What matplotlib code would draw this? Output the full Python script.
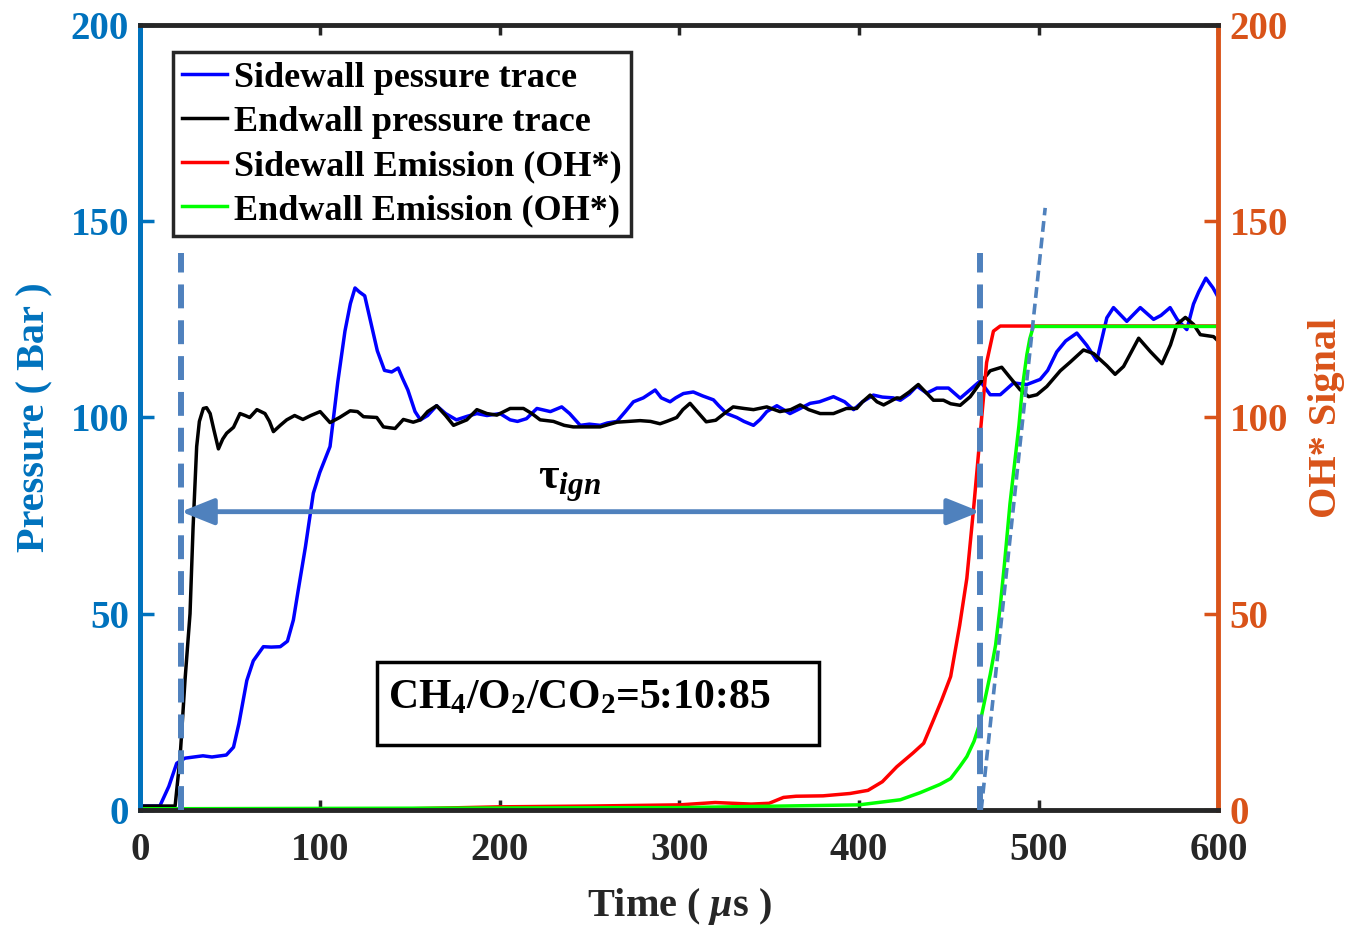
import matplotlib
matplotlib.use("Agg")
import matplotlib.pyplot as plt
from matplotlib.patches import Rectangle

plt.rcParams['font.family'] = ['Liberation Serif', 'DejaVu Serif']
plt.rcParams['font.weight'] = 'bold'
plt.rcParams['axes.labelweight'] = 'bold'
plt.rcParams['mathtext.fontset'] = 'custom'
plt.rcParams['mathtext.rm'] = 'Liberation Serif:bold'
plt.rcParams['mathtext.bf'] = 'Liberation Serif:bold'
plt.rcParams['mathtext.it'] = 'Liberation Serif:italic:bold'

# --- data (time in us) ---
side_t = [0, 11, 16, 20.4, 25, 30, 35, 40, 48, 52, 55, 59.4, 63, 68.6, 73, 78, 82, 85.3, 88, 92,
          96.4, 100, 105.7, 110, 114, 117, 119.6, 122, 125, 128, 132, 136, 140, 143.6, 146, 149,
          153, 156, 160, 165, 170, 176, 182, 187.4, 193, 200.3, 205.9, 210, 215, 220.8, 228.3,
          234.6, 239, 244.9, 250, 256, 260, 265.3, 270, 274.5, 280, 286.6, 290, 294.9, 298,
          302.3, 307.8, 313, 319, 322, 326.4, 332, 336, 341.3, 345, 348.7, 354.3, 358, 361.6,
          366, 372.8, 378, 385.8, 392, 397, 402, 408, 413, 419, 423, 428, 432.2, 437.7, 443.3,
          449.8, 456.3, 461.9, 467.4, 473, 478.6, 486, 493.4, 500.8, 505, 510, 515, 521.2, 526.7,
          532.3, 537.9, 541.6, 549, 556.5, 563.9, 568, 573.1, 577, 582.4, 586.1, 589, 593, 597, 600]
side_p = [1.0, 1.0, 6, 11.9, 13.2, 13.5, 13.8, 13.5, 14, 16, 22, 33, 38, 41.6, 41.5, 41.6, 43,
          48.4, 56, 67, 80.7, 86, 92.6, 109, 122, 129, 133, 132, 131, 125, 117, 112, 111.6,
          112.6, 110, 107, 101.5, 99.4, 100.5, 103, 101, 99.4, 100.3, 101, 100.5, 101, 99.4, 99,
          99.7, 102.3, 101.5, 102.7, 101, 98, 98.3, 98, 98.6, 99, 101.5, 104, 105, 107, 105, 104,
          105, 106.1, 106.5, 105.5, 104.5, 103, 101, 100, 99, 98, 99.5, 101.5, 103, 102, 101, 102,
          103.6, 104, 105.3, 104, 102, 104, 105.7, 105.2, 105, 104.4, 106, 108, 106.2, 107.5,
          107.5, 104.9, 107.1, 109.3, 105.8, 105.8, 108.8, 108.4, 109.7, 112, 116.7, 119.5, 121.5,
          118.4, 114.5, 125.4, 128, 124.5, 128, 125, 126, 128, 125, 122.4, 128.9, 132, 135.5, 133,
          130.5]

end_t = [0, 19.5, 22.3, 25, 27.8, 29.5, 31.5, 33, 35.2, 37, 39, 41, 43.6, 46, 48.2, 52, 55.6,
         58.5, 61, 65, 69.5, 72, 74.2, 78, 81.6, 86, 90.6, 95, 100.2, 105.7, 111, 116.9, 121,
         124.3, 131.7, 135.4, 141.9, 146.5, 152, 156, 160, 165, 170, 174.4, 181.8, 187.4, 193,
         198.5, 205.9, 213.3, 218, 222.6, 230, 236, 241, 256, 265.3, 278.2, 284, 289.3, 293,
         298.6, 302, 306, 310, 315, 320.3, 325, 330, 336, 341.3, 348.7, 356, 362, 367.3, 372,
         378.4, 385.8, 393, 398.7, 402, 406.2, 410, 413.7, 417, 421, 423, 428, 433, 437, 441.4,
         447, 451, 456.3, 461.9, 467.4, 473, 479.4, 484, 489.6, 494.4, 499, 504.5, 512, 517.5,
         524.9, 530.5, 537.9, 542.5, 547.2, 555.6, 562.1, 568.6, 573.3, 576.9, 581.6, 586.2,
         589.9, 597.3, 600]
end_p = [1.0, 1.0, 13.6, 33, 50, 72, 92.6, 99, 102.3, 102.5, 101, 97, 92, 94.5, 96, 97.5, 101,
         100.5, 100, 102, 101, 99, 96.4, 98, 99.4, 100.5, 99.5, 100.5, 101.5, 98.7, 100, 101.7,
         101.5, 100.2, 100, 97.6, 97.2, 99.5, 98.8, 99.4, 101.5, 103, 100.5, 98, 99.4, 102, 101,
         100.6, 102.3, 102.3, 101, 99.4, 99, 98, 97.6, 97.6, 98.8, 99.2, 99, 98.4, 99, 100, 102,
         103.6, 101.5, 98.9, 99.3, 101, 102.7, 102.3, 102, 102.7, 101.5, 102, 103.2, 102, 101,
         101, 102.3, 102.3, 104, 105.7, 104, 103.2, 104, 105, 104.9, 106.5, 108.4, 106.5, 104.4,
         104.4, 103.5, 103.1, 105.3, 108.8, 111.9, 112.8, 110.2, 107.1, 105.3, 105.8, 107.9,
         111.9, 114.1, 117.2, 116.3, 113.2, 111, 113, 120.2, 116.8, 113.7, 118.5, 123.7, 125.5,
         123.7, 121.1, 120.6, 119.4]

side_oh_t = [0, 150, 200, 250, 300, 320, 340, 350, 358, 365, 380, 395, 405, 413, 421, 430, 436,
             441.5, 446, 451, 456, 460, 464, 467.5, 471, 474.8, 478.6, 600]
side_oh = [0.3, 0.3, 0.8, 1.0, 1.3, 1.9, 1.5, 1.7, 3.2, 3.5, 3.6, 4.2, 5.0, 7.2, 11, 14.5, 17,
           23, 28, 34, 47, 59, 78, 96, 114, 122, 123.3, 123.3]

end_oh_t = [0, 300, 400, 423, 434, 445, 451, 456, 460, 464, 467.4, 470, 473, 476, 478.6, 481,
            484, 486.5, 489, 491, 493.4, 495, 497, 600]
end_oh = [0.3, 0.6, 1.3, 2.6, 4.4, 6.5, 8, 11, 13.6, 17.5, 22.3, 28, 34.5, 42, 52, 63, 78, 88,
          98, 108, 116, 120, 123.2, 123.2]

t_start = 22.8      # shock arrival
t_ign = 467.4       # ignition
tau_level = 76
slope_t = [468, 503.6]
slope_v = [0, 153.4]

labels = ['Sidewall pessure trace', 'Endwall pressure trace',
          'Sidewall Emission (OH*)', 'Endwall Emission (OH*)']

c_left = '#0072BD'
c_right = '#D95319'
c_mark = '#4F81BD'
c_dark = '#262626'

fig = plt.figure(figsize=(13.48, 9.26), dpi=100)
ax = fig.add_axes([0.1039, 0.1253, 0.8, 0.8477])
ax2 = ax.twinx()

l1, = ax.plot(side_t, side_p, color='#0000FF', lw=2.5)
l2, = ax.plot(end_t, end_p, color='black', lw=2.5)
l3, = ax2.plot(side_oh_t, side_oh, color='#FF0000', lw=2.5)
l4, = ax2.plot(end_oh_t, end_oh, color='#00FF00', lw=2.5)

for a in (ax, ax2):
    a.set_xlim(0, 600)
    a.set_ylim(0, 200)

# ignition delay markers
ax2.plot([t_start, t_start], [0, 142], color=c_mark, lw=4.3, ls=(0, (4, 2)), zorder=5)
ax2.plot([t_ign, t_ign], [0, 142], color=c_mark, lw=4.3, ls=(0, (4, 2)), zorder=5)
ax2.plot(slope_t, slope_v, color=c_mark, lw=2.6, ls=(0, (3, 1.6)), zorder=5)
ax2.annotate('', xy=(t_start, tau_level), xytext=(t_ign, tau_level),
             arrowprops=dict(arrowstyle='<|-|>,head_length=1.0,head_width=0.4',
                             mutation_scale=20, color=c_mark, lw=3.5,
                             shrinkA=0, shrinkB=0), zorder=5)
ax2.text(239, 83, r'$\mathrm{\tau}_{ign}$', fontsize=32, ha='center', va='center')

ax2.add_patch(Rectangle((132, 16.6), 246, 21.1, fill=True, fc='white', ec='black', lw=2.5,
                        zorder=6))
ax2.text(138, 28.5, r'CH$_4$/O$_2$/CO$_2$=5:10:85', fontsize=30, ha='left', va='center',
         zorder=7)

# axes styling
ax.set_xticks(range(0, 601, 100))
ax.set_yticks(range(0, 201, 50))
ax2.set_yticks(range(0, 201, 50))
ax.tick_params(axis='x', direction='in', length=7, width=2.5, top=True, colors=c_dark,
               labelsize=28, pad=16)
ax.tick_params(axis='y', direction='in', length=10, width=2.5, colors=c_left,
               labelsize=28, pad=8)
ax2.tick_params(axis='y', direction='in', length=10, width=2.5, colors=c_right,
                labelsize=28, pad=8)
ax2.tick_params(axis='x', top=True, direction='in', length=7, width=2.5)

for sp in ('top', 'bottom'):
    ax2.spines[sp].set_color(c_dark)
    ax2.spines[sp].set_linewidth(3.5)
ax2.spines['left'].set_color(c_left)
ax2.spines['left'].set_linewidth(3.5)
ax2.spines['right'].set_color(c_right)
ax2.spines['right'].set_linewidth(3.5)
ax.spines['left'].set_color(c_left)
ax.spines['left'].set_linewidth(3.5)

ax.set_xlabel(r'Time ( $\mu$s )', fontsize=29, color=c_dark, labelpad=12)
ax.set_ylabel('Pressure ( Bar )', fontsize=29, color=c_left, labelpad=12)
ax2.set_ylabel('OH* Signal', fontsize=29, color=c_right, labelpad=14)

leg = ax2.legend([l1, l2, l3, l4], labels, loc='upper left',
                 bbox_to_anchor=(0.0306, 0.965), fontsize=26, handlelength=1.25,
                 handletextpad=0.2, labelspacing=0.3, borderpad=0.25, borderaxespad=0,
                 fancybox=False, framealpha=1)
leg.get_frame().set_edgecolor(c_dark)
leg.get_frame().set_linewidth(2.5)
leg.set_zorder(10)

fig.savefig('out.png', dpi=100)
